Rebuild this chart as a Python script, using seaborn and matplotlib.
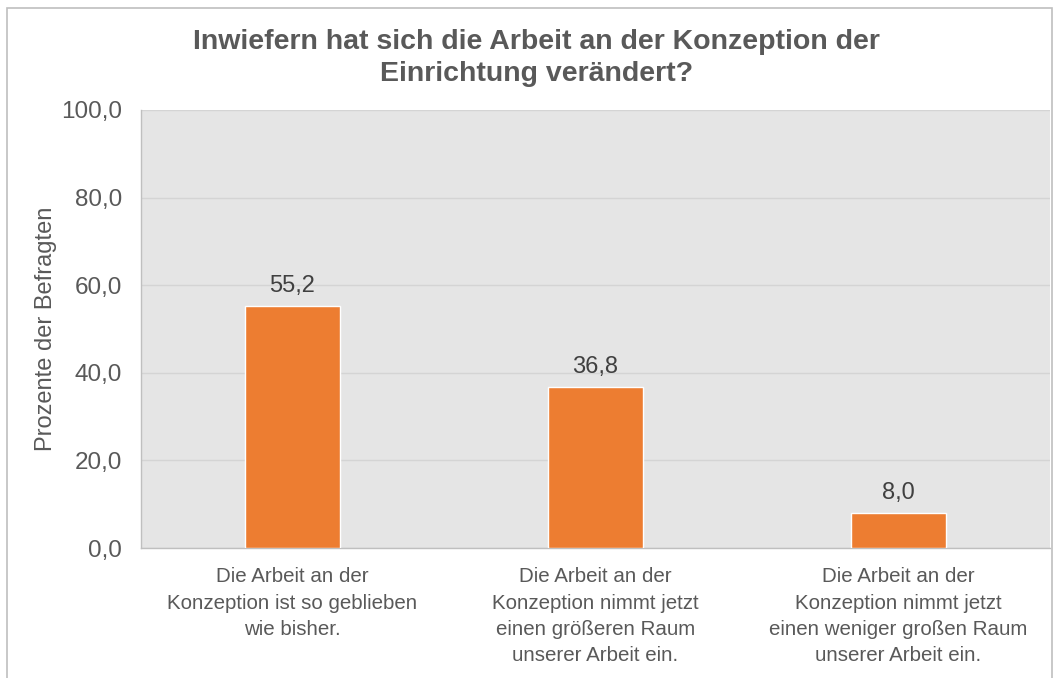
import matplotlib
matplotlib.use("Agg")
import matplotlib.pyplot as plt
import seaborn as sns
import pandas as pd
from matplotlib.patches import Rectangle

categories = [
    "Die Arbeit an der\nKonzeption ist so geblieben\nwie bisher.",
    "Die Arbeit an der\nKonzeption nimmt jetzt\neinen größeren Raum\nunserer Arbeit ein.",
    "Die Arbeit an der\nKonzeption nimmt jetzt\neinen weniger großen Raum\nunserer Arbeit ein.",
]
values = [55.2, 36.8, 8.0]
yticks = [0, 20, 40, 60, 80, 100]

title = "Inwiefern hat sich die Arbeit an der Konzeption der\nEinrichtung verändert?"
ylabel = "Prozente der Befragten"

text_color = "#595959"
bar_color = "#ED7D31"

sns.set_theme(style="white")
plt.rcParams["font.family"] = ["Liberation Sans", "DejaVu Sans"]

df = pd.DataFrame({"kategorie": categories, "wert": values})

fig = plt.figure(figsize=(10.55, 6.78), dpi=100)
ax = fig.add_axes([0.1336, 0.1917, 0.8614, 0.6461])
ax.set_facecolor("#E5E5E5")

sns.barplot(data=df, x="kategorie", y="wert", color=bar_color, width=0.315,
            saturation=1, ax=ax, zorder=3)

ax.set_ylim(0, 100)
ax.set_xlim(-0.5, 2.5)
ax.set_yticks(yticks)
ax.set_yticklabels([f"{t:.1f}".replace(".", ",") for t in yticks],
                   fontsize=17.5, color=text_color)
ax.tick_params(axis="y", length=0, pad=13.5)
ax.tick_params(axis="x", length=0, pad=14)
for lab in ax.get_xticklabels():
    lab.set_fontsize(14.8)
    lab.set_color(text_color)
    lab.set_linespacing(1.48)
ax.yaxis.grid(True, color="#D4D4D4", linewidth=1, zorder=0)
ax.set_axisbelow(True)

for spine in ["top", "right"]:
    ax.spines[spine].set_visible(False)
for spine in ["left", "bottom"]:
    ax.spines[spine].set_color("#BFBFBF")
    ax.spines[spine].set_linewidth(1)

for i, v in enumerate(values):
    ax.text(i, v + 2, f"{v:.1f}".replace(".", ","), ha="center", va="bottom",
            fontsize=17, color="#404040")

ax.set_xlabel("")
ax.set_ylabel(ylabel, fontsize=17, color=text_color, labelpad=3)

fig.text(0.5085, 0.957, title, ha="center", va="top", fontsize=20.5,
         fontweight="bold", color=text_color, linespacing=1.3)

fig.patches.append(Rectangle((7 / 1055, -0.05), 1045 / 1055, 1.05 - 8 / 678,
                             transform=fig.transFigure, fill=False,
                             edgecolor="#BFBFBF", linewidth=1.2))

fig.savefig("out.png", dpi=100)
